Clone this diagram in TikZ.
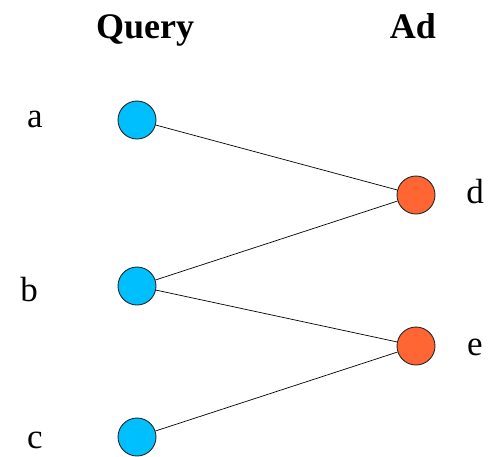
\documentclass[tikz,border=0pt]{standalone}
\usepackage{fontspec}
\setmainfont{Liberation Serif}
\definecolor{qblue}{HTML}{00BFFF}
\definecolor{adorange}{HTML}{FF6633}
\begin{document}
\begin{tikzpicture}[x=1pt,y=-1pt,
  qnode/.style={circle,draw=black!85,line width=0.9pt,fill=qblue,minimum size=38pt,inner sep=0pt},
  anode/.style={circle,draw=black!85,line width=0.9pt,fill=adorange,minimum size=38pt,inner sep=0pt},
  lbl/.style={font=\fontsize{35}{40}\selectfont,anchor=base,inner sep=0pt},
  head/.style={font=\fontsize{36}{42}\selectfont\bfseries,anchor=base,inner sep=0pt},
  edge/.style={draw=black,line width=0.7pt}]
\useasboundingbox (0,0) rectangle (489,456);
% column headings
\node[head] (hq) at (145,38) {Query};
\node[head] (ha) at (413,38) {Ad};
% query nodes
\node[qnode] (a) at (137,120) {};
\node[qnode] (b) at (137,286) {};
\node[qnode] (c) at (137,437) {};
% ad nodes
\node[anode] (d) at (416,195) {};
\node[anode] (e) at (416,346) {};
% node labels
\node[lbl] (la) at (35,127) {a};
\node[lbl] (lb) at (29,301) {b};
\node[lbl] (lc) at (35,448) {c};
\node[lbl] (ld) at (475,203) {d};
\node[lbl] (le) at (475,355) {e};
% edges
\draw[edge] (a) -- (d);
\draw[edge] (b) -- (d);
\draw[edge] (b) -- (e);
\draw[edge] (c) -- (e);
\end{tikzpicture}
\end{document}
